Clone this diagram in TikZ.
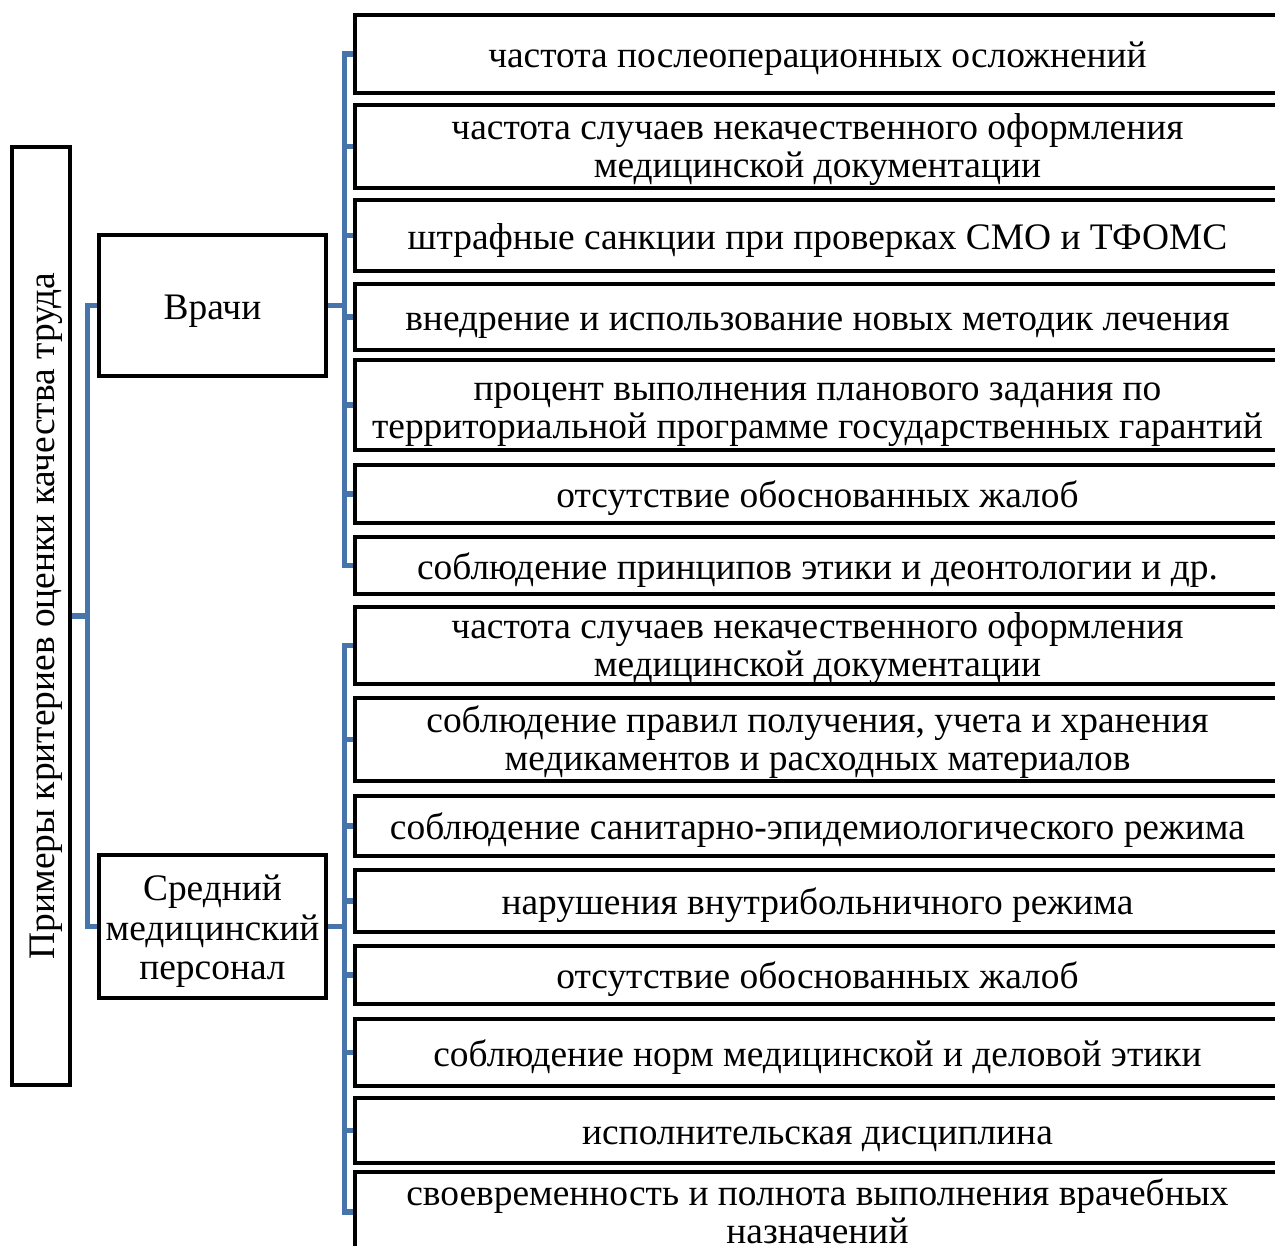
\documentclass[tikz,border=0pt]{standalone}
\usepackage{fontspec}
\setmainfont{Liberation Serif}
\usetikzlibrary{calc}
\definecolor{linkblue}{RGB}{72,116,172}
\newcommand\txtsize{\fontsize{21.3}{21.5}\selectfont\lineskiplimit=-20pt}
\newcommand\widesize{\fontsize{21.3}{22.6}\selectfont\lineskiplimit=-20pt}
\newcommand\topstrut{\rule[-5.6pt]{0pt}{26.6pt}}
\newcommand\stacked[2][2.5pt]{\raisebox{-#1}[\height][\depth]{\begin{tabular}{@{}c@{}}#2\end{tabular}}}

\begin{document}
\begin{tikzpicture}[x=0.02cm, y=-0.02cm,
		box/.style={draw, line width=2.6pt, align=center, inner sep=0pt, font=\txtsize,
			execute at begin node=\topstrut, execute at end node=\topstrut},
		leaf/.style={box, minimum width=18.5cm, minimum height=#1*0.02cm},
		link/.style={draw=linkblue, line width=3.1pt}]
		%%%%% START %%%%%
		\useasboundingbox (0, 0) rectangle (1275, 1245);
		\clip (0, 0) rectangle (1275, 1245);
		
		\node[box, rotate=90, minimum width=18.76cm, minimum height=1.16cm] (root) at (41, 616) {Примеры критериев оценки качества труда};
		
		\node[box, minimum width=4.54cm, minimum height=2.82cm] (vr) at (212.5, 305.5) {Врачи};
		\node[box, minimum width=4.54cm, minimum height=2.86cm, font=\widesize] (sr) at (212.5, 926.5) {\stacked[3.2pt]{Средний\\медицинский\\персонал}};
		
		% doctors
		\node[leaf=78] (d1) at (817.5, 54) {частота послеоперационных осложнений};
		\node[leaf=83] (d2) at (817.5, 146.5) {\stacked{частота случаев некачественного оформления\\медицинской документации}};
		\node[leaf=71] (d3) at (817.5, 235.5) {штрафные санкции при проверках СМО и ТФОМС};
		\node[leaf=66] (d4) at (817.5, 317) {внедрение и использование новых методик лечения};
		\node[leaf=90] (d5) at (817.5, 405) {\stacked[3.8pt]{процент выполнения планового задания по\\территориальной программе государственных гарантий}};
		\node[leaf=58] (d6) at (817.5, 494) {отсутствие обоснованных жалоб};
		\node[leaf=57] (d7) at (817.5, 565.5) {соблюдение принципов этики и деонтологии и др.};
		
		% nurses
		\node[leaf=77] (s1) at (817.5, 645.5) {\stacked{частота случаев некачественного оформления\\медицинской документации}};
		\node[leaf=83] (s2) at (817.5, 739.5) {\stacked{соблюдение правил получения, учета и хранения\\медикаментов и расходных материалов}};
		\node[leaf=60] (s3) at (817.5, 826) {соблюдение санитарно-эпидемиологического режима};
		\node[leaf=62] (s4) at (817.5, 901) {нарушения внутрибольничного режима};
		\node[leaf=58] (s5) at (817.5, 975) {отсутствие обоснованных жалоб};
		\node[leaf=67] (s6) at (817.5, 1052.5) {соблюдение норм медицинской и деловой этики};
		\node[leaf=65] (s7) at (817.5, 1130.5) {исполнительская дисциплина};
		\node[leaf=80] (s8) at (817.5, 1212) {\stacked{своевременность и полнота выполнения врачебных\\назначений}};
		
		% links
		\draw[link] (root.south) -- ++(15, 0) coordinate (rb);
		\draw[link] (vr.west) -| (rb) |- (sr.west);
		
		\draw[link] (vr.east) -- ++(16, 0) coordinate (vb);
		\draw[link] (d1.west) -| (vb) |- (d7.west);
		\foreach \i in {2,...,6}
			\draw[link] (d\i.west) -- (d\i.west -| vb);
		
		\draw[link] (sr.east) -- ++(16, 0) coordinate (sb);
		\draw[link] (s1.west) -| (sb) |- (s8.west);
		\foreach \i in {2,...,7}
			\draw[link] (s\i.west) -- (s\i.west -| sb);
		%%%%% END %%%%%
	\end{tikzpicture}
\end{document}
